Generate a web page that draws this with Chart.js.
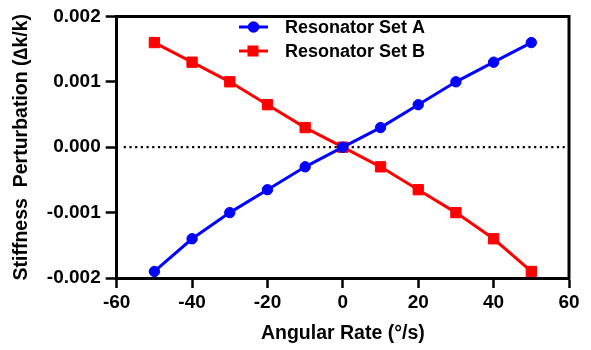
<!DOCTYPE html>
<html>
<head>
<meta charset="utf-8">
<script src="https://cdn.jsdelivr.net/npm/chart.js@4/dist/chart.umd.min.js"></script>
<style>
html,body{margin:0;padding:0;background:#fff;}
#c{display:block;}
</style>
</head>
<body>
<canvas id="c" width="591" height="350"></canvas>
<script>
const rates = [-50, -40, -30, -20, -10, 0, 10, 20, 30, 40, 50];
const setA = [-0.0019, -0.0014, -0.001, -0.00065, -0.0003, 0, 0.0003, 0.00065, 0.001, 0.0013, 0.0016];
const setB = [0.0016, 0.0013, 0.001, 0.00065, 0.0003, 0, -0.0003, -0.00065, -0.001, -0.0014, -0.0019];
const seriesNames = ['Resonator Set A', 'Resonator Set B'];
const xTicks = [-60, -40, -20, 0, 20, 40, 60];
const yTicks = [-0.002, -0.001, 0, 0.001, 0.002];
const xTitle = 'Angular Rate (°/s)';
const yTitle = 'Stiffness  Perturbation (∆k/k)';

const FONT = '"Liberation Sans", Arial, Helvetica, sans-serif';

const toPts = (ys) => rates.map((x, i) => ({x: x, y: ys[i]}));

const framePlugin = {
  id: 'frame',
  beforeDatasetsDraw(chart) {
    const {ctx, chartArea: a, scales} = chart;
    const y0 = scales.y.getPixelForValue(0);
    ctx.save();
    ctx.strokeStyle = '#000';
    ctx.lineWidth = 2.2;
    ctx.setLineDash([2.2, 3.5]);
    ctx.beginPath();
    ctx.moveTo(a.left + 7, y0);
    ctx.lineTo(a.right - 2, y0);
    ctx.stroke();
    ctx.restore();
  },
  afterDraw(chart) {
    const {ctx, chartArea: a} = chart;
    ctx.save();
    ctx.strokeStyle = '#000';
    ctx.lineWidth = 3;
    ctx.beginPath();
    ctx.moveTo(a.left - 1.5, a.top);
    ctx.lineTo(a.right, a.top);
    ctx.lineTo(a.right, a.bottom + 1.5);
    ctx.stroke();
    // legend
    const rows = [27, 51];
    chart.data.datasets.forEach((ds, i) => {
      const y = rows[i];
      ctx.strokeStyle = ds.borderColor;
      ctx.lineWidth = 3;
      ctx.beginPath();
      ctx.moveTo(239, y);
      ctx.lineTo(268, y);
      ctx.stroke();
      ctx.fillStyle = ds.backgroundColor;
      if (ds.pointStyle === 'rect') {
        ctx.fillRect(253 - 5.5, y - 5.5, 11, 11);
      } else {
        ctx.beginPath();
        ctx.arc(253.5, y, 5.8, 0, Math.PI * 2);
        ctx.fill();
      }
      ctx.fillStyle = '#000';
      ctx.font = 'bold 18px ' + FONT;
      ctx.textAlign = 'left';
      ctx.textBaseline = 'middle';
      ctx.fillText(ds.label, 285, y + 1);
    });
    ctx.restore();
  }
};

new Chart(document.getElementById('c'), {
  type: 'scatter',
  data: {
    datasets: [
      {
        label: seriesNames[0],
        data: toPts(setA),
        showLine: true,
        borderColor: '#0000FF',
        backgroundColor: '#0000FF',
        borderWidth: 3,
        pointStyle: 'circle',
        pointRadius: 5.2,
        pointBorderWidth: 1,
        pointBorderColor: '#0000FF',
        pointBackgroundColor: '#0000FF',
        clip: false
      },
      {
        label: seriesNames[1],
        data: toPts(setB),
        showLine: true,
        borderColor: '#FF0000',
        backgroundColor: '#FF0000',
        borderWidth: 3,
        pointStyle: 'rect',
        pointRadius: 7.3,
        pointBorderWidth: 1,
        pointBorderColor: '#FF0000',
        pointBackgroundColor: '#FF0000',
        clip: false
      }
    ]
  },
  options: {
    responsive: false,
    animation: false,
    devicePixelRatio: 1,
    layout: {padding: {left: 0, right: 22, top: 14, bottom: 0}},
    plugins: {legend: {display: false}, tooltip: {enabled: false}},
    scales: {
      x: {
        type: 'linear',
        min: xTicks[0],
        max: xTicks[xTicks.length - 1],
        afterBuildTicks(scale) { scale.ticks = xTicks.map(v => ({value: v})); },
        afterFit(scale) { scale.height = 72; },
        ticks: {
          color: '#000',
          font: {family: FONT, size: 19, weight: 'bold'},
          padding: 3.5,
          maxRotation: 0,
          autoSkip: false,
          callback: (v) => String(v)
        },
        grid: {drawOnChartArea: false, drawTicks: true, tickLength: 10, tickColor: '#000', tickWidth: 2.5},
        border: {color: '#000', width: 3},
        title: {
          display: true,
          text: xTitle,
          color: '#000',
          font: {family: FONT, size: 19.5, weight: 'bold'},
          padding: {top: 0, bottom: 4.3}
        }
      },
      y: {
        type: 'linear',
        min: yTicks[0],
        max: yTicks[yTicks.length - 1],
        afterBuildTicks(scale) { scale.ticks = yTicks.map(v => ({value: v})); },
        afterFit(scale) { scale.width = 116.7; },
        ticks: {
          color: '#000',
          font: {family: FONT, size: 19, weight: 'bold'},
          padding: 5,
          autoSkip: false,
          callback: (v) => Number(v).toFixed(3)
        },
        grid: {drawOnChartArea: false, drawTicks: true, tickLength: 11, tickColor: '#000', tickWidth: 2.5},
        border: {color: '#000', width: 3},
        title: {
          display: true,
          text: yTitle,
          color: '#000',
          font: {family: FONT, size: 19.5, weight: 'bold'},
          padding: {top: 10.3, bottom: 0}
        }
      }
    }
  },
  plugins: [framePlugin]
});
</script>
</body>
</html>
